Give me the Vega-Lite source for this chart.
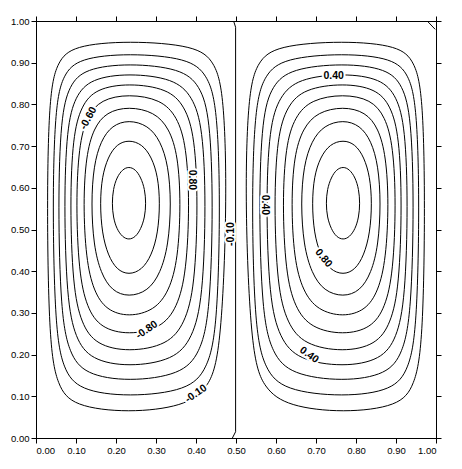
{
  "$schema": "https://vega.github.io/schema/vega-lite/v6.json",
  "width": 400,
  "height": 417,
  "autosize": {"type": "none"},
  "padding": {"left": 36, "top": 21, "right": 26, "bottom": 31},
  "background": "white",
  "config": {
    "view": {"stroke": "black", "strokeWidth": 1},
    "axis": {"grid": false, "domainColor": "black", "tickColor": "black", "labelColor": "black", "labelFont": "Liberation Sans", "labelFontSize": 9.5, "tickSize": 5, "labelPadding": 2, "title": null, "domainWidth": 1, "tickWidth": 1}
  },
  "datasets": {
    "contours": [
      {"c":"L1","i":0,"x":0.478,"y":0.563},{"c":"L1","i":1,"x":0.470,"y":0.829},{"c":"L1","i":2,"x":0.446,"y":0.903},{"c":"L1","i":3,"x":0.400,"y":0.941},{"c":"L1","i":4,"x":0.232,"y":0.953},{"c":"L1","i":5,"x":0.092,"y":0.941},{"c":"L1","i":6,"x":0.054,"y":0.903},{"c":"L1","i":7,"x":0.033,"y":0.829},{"c":"L1","i":8,"x":0.027,"y":0.563},{"c":"L1","i":9,"x":0.033,"y":0.221},{"c":"L1","i":10,"x":0.054,"y":0.125},{"c":"L1","i":11,"x":0.092,"y":0.076},{"c":"L1","i":12,"x":0.232,"y":0.060},{"c":"L1","i":13,"x":0.370,"y":0.076},{"c":"L1","i":14,"x":0.430,"y":0.118},{"c":"L1","i":15,"x":0.462,"y":0.200},
      {"c":"L2","i":0,"x":0.461,"y":0.563},{"c":"L2","i":1,"x":0.453,"y":0.798},{"c":"L2","i":2,"x":0.428,"y":0.872},{"c":"L2","i":3,"x":0.381,"y":0.911},{"c":"L2","i":4,"x":0.232,"y":0.923},{"c":"L2","i":5,"x":0.107,"y":0.911},{"c":"L2","i":6,"x":0.068,"y":0.872},{"c":"L2","i":7,"x":0.048,"y":0.798},{"c":"L2","i":8,"x":0.041,"y":0.563},{"c":"L2","i":9,"x":0.048,"y":0.260},{"c":"L2","i":10,"x":0.068,"y":0.165},{"c":"L2","i":11,"x":0.107,"y":0.114},{"c":"L2","i":12,"x":0.232,"y":0.098},{"c":"L2","i":13,"x":0.381,"y":0.114},{"c":"L2","i":14,"x":0.428,"y":0.165},{"c":"L2","i":15,"x":0.453,"y":0.260},
      {"c":"L3","i":0,"x":0.443,"y":0.563},{"c":"L3","i":1,"x":0.435,"y":0.771},{"c":"L3","i":2,"x":0.410,"y":0.846},{"c":"L3","i":3,"x":0.363,"y":0.886},{"c":"L3","i":4,"x":0.232,"y":0.899},{"c":"L3","i":5,"x":0.122,"y":0.886},{"c":"L3","i":6,"x":0.083,"y":0.846},{"c":"L3","i":7,"x":0.062,"y":0.771},{"c":"L3","i":8,"x":0.055,"y":0.563},{"c":"L3","i":9,"x":0.062,"y":0.298},{"c":"L3","i":10,"x":0.083,"y":0.203},{"c":"L3","i":11,"x":0.122,"y":0.152},{"c":"L3","i":12,"x":0.232,"y":0.135},{"c":"L3","i":13,"x":0.363,"y":0.152},{"c":"L3","i":14,"x":0.410,"y":0.203},{"c":"L3","i":15,"x":0.435,"y":0.298},
      {"c":"L4","i":0,"x":0.425,"y":0.563},{"c":"L4","i":1,"x":0.417,"y":0.746},{"c":"L4","i":2,"x":0.391,"y":0.820},{"c":"L4","i":3,"x":0.345,"y":0.862},{"c":"L4","i":4,"x":0.232,"y":0.875},{"c":"L4","i":5,"x":0.137,"y":0.862},{"c":"L4","i":6,"x":0.098,"y":0.820},{"c":"L4","i":7,"x":0.077,"y":0.746},{"c":"L4","i":8,"x":0.070,"y":0.563},{"c":"L4","i":9,"x":0.077,"y":0.333},{"c":"L4","i":10,"x":0.098,"y":0.239},{"c":"L4","i":11,"x":0.137,"y":0.187},{"c":"L4","i":12,"x":0.232,"y":0.170},{"c":"L4","i":13,"x":0.345,"y":0.187},{"c":"L4","i":14,"x":0.391,"y":0.239},{"c":"L4","i":15,"x":0.417,"y":0.333},
      {"c":"L5","i":0,"x":0.405,"y":0.563},{"c":"L5","i":1,"x":0.397,"y":0.724},{"c":"L5","i":2,"x":0.372,"y":0.797},{"c":"L5","i":3,"x":0.329,"y":0.838},{"c":"L5","i":4,"x":0.232,"y":0.851},{"c":"L5","i":5,"x":0.150,"y":0.838},{"c":"L5","i":6,"x":0.113,"y":0.797},{"c":"L5","i":7,"x":0.092,"y":0.724},{"c":"L5","i":8,"x":0.085,"y":0.563},{"c":"L5","i":9,"x":0.092,"y":0.363},{"c":"L5","i":10,"x":0.113,"y":0.274},{"c":"L5","i":11,"x":0.150,"y":0.223},{"c":"L5","i":12,"x":0.232,"y":0.206},{"c":"L5","i":13,"x":0.329,"y":0.223},{"c":"L5","i":14,"x":0.372,"y":0.274},{"c":"L5","i":15,"x":0.397,"y":0.363},
      {"c":"L6","i":0,"x":0.384,"y":0.563},{"c":"L6","i":1,"x":0.376,"y":0.701},{"c":"L6","i":2,"x":0.353,"y":0.771},{"c":"L6","i":3,"x":0.312,"y":0.812},{"c":"L6","i":4,"x":0.232,"y":0.825},{"c":"L6","i":5,"x":0.162,"y":0.812},{"c":"L6","i":6,"x":0.127,"y":0.771},{"c":"L6","i":7,"x":0.107,"y":0.701},{"c":"L6","i":8,"x":0.100,"y":0.563},{"c":"L6","i":9,"x":0.107,"y":0.397},{"c":"L6","i":10,"x":0.127,"y":0.312},{"c":"L6","i":11,"x":0.162,"y":0.263},{"c":"L6","i":12,"x":0.232,"y":0.247},{"c":"L6","i":13,"x":0.312,"y":0.263},{"c":"L6","i":14,"x":0.353,"y":0.312},{"c":"L6","i":15,"x":0.376,"y":0.397},
      {"c":"L7","i":0,"x":0.362,"y":0.563},{"c":"L7","i":1,"x":0.355,"y":0.677},{"c":"L7","i":2,"x":0.333,"y":0.743},{"c":"L7","i":3,"x":0.296,"y":0.782},{"c":"L7","i":4,"x":0.232,"y":0.795},{"c":"L7","i":5,"x":0.176,"y":0.782},{"c":"L7","i":6,"x":0.144,"y":0.743},{"c":"L7","i":7,"x":0.125,"y":0.677},{"c":"L7","i":8,"x":0.118,"y":0.563},{"c":"L7","i":9,"x":0.125,"y":0.429},{"c":"L7","i":10,"x":0.144,"y":0.352},{"c":"L7","i":11,"x":0.176,"y":0.306},{"c":"L7","i":12,"x":0.232,"y":0.290},{"c":"L7","i":13,"x":0.296,"y":0.306},{"c":"L7","i":14,"x":0.333,"y":0.352},{"c":"L7","i":15,"x":0.355,"y":0.429},
      {"c":"L8","i":0,"x":0.338,"y":0.563},{"c":"L8","i":1,"x":0.331,"y":0.653},{"c":"L8","i":2,"x":0.311,"y":0.713},{"c":"L8","i":3,"x":0.280,"y":0.750},{"c":"L8","i":4,"x":0.232,"y":0.763},{"c":"L8","i":5,"x":0.190,"y":0.750},{"c":"L8","i":6,"x":0.162,"y":0.713},{"c":"L8","i":7,"x":0.144,"y":0.653},{"c":"L8","i":8,"x":0.138,"y":0.563},{"c":"L8","i":9,"x":0.144,"y":0.462},{"c":"L8","i":10,"x":0.162,"y":0.395},{"c":"L8","i":11,"x":0.190,"y":0.352},{"c":"L8","i":12,"x":0.232,"y":0.338},{"c":"L8","i":13,"x":0.280,"y":0.352},{"c":"L8","i":14,"x":0.311,"y":0.395},{"c":"L8","i":15,"x":0.331,"y":0.462},
      {"c":"L9","i":0,"x":0.310,"y":0.563},{"c":"L9","i":1,"x":0.305,"y":0.627},{"c":"L9","i":2,"x":0.289,"y":0.674},{"c":"L9","i":3,"x":0.265,"y":0.705},{"c":"L9","i":4,"x":0.232,"y":0.715},{"c":"L9","i":5,"x":0.202,"y":0.705},{"c":"L9","i":6,"x":0.180,"y":0.674},{"c":"L9","i":7,"x":0.165,"y":0.627},{"c":"L9","i":8,"x":0.160,"y":0.563},{"c":"L9","i":9,"x":0.165,"y":0.491},{"c":"L9","i":10,"x":0.180,"y":0.438},{"c":"L9","i":11,"x":0.202,"y":0.403},{"c":"L9","i":12,"x":0.232,"y":0.391},{"c":"L9","i":13,"x":0.265,"y":0.403},{"c":"L9","i":14,"x":0.289,"y":0.438},{"c":"L9","i":15,"x":0.305,"y":0.491},
      {"c":"L10","i":0,"x":0.275,"y":0.563},{"c":"L10","i":1,"x":0.272,"y":0.597},{"c":"L10","i":2,"x":0.262,"y":0.625},{"c":"L10","i":3,"x":0.249,"y":0.644},{"c":"L10","i":4,"x":0.232,"y":0.651},{"c":"L10","i":5,"x":0.216,"y":0.644},{"c":"L10","i":6,"x":0.202,"y":0.625},{"c":"L10","i":7,"x":0.193,"y":0.597},{"c":"L10","i":8,"x":0.190,"y":0.563},{"c":"L10","i":9,"x":0.193,"y":0.529},{"c":"L10","i":10,"x":0.202,"y":0.501},{"c":"L10","i":11,"x":0.216,"y":0.482},{"c":"L10","i":12,"x":0.232,"y":0.475},{"c":"L10","i":13,"x":0.249,"y":0.482},{"c":"L10","i":14,"x":0.262,"y":0.501},{"c":"L10","i":15,"x":0.272,"y":0.529},
      {"c":"R1","i":0,"x":0.522,"y":0.563},{"c":"R1","i":1,"x":0.530,"y":0.829},{"c":"R1","i":2,"x":0.554,"y":0.903},{"c":"R1","i":3,"x":0.600,"y":0.941},{"c":"R1","i":4,"x":0.768,"y":0.953},{"c":"R1","i":5,"x":0.908,"y":0.941},{"c":"R1","i":6,"x":0.946,"y":0.903},{"c":"R1","i":7,"x":0.967,"y":0.829},{"c":"R1","i":8,"x":0.973,"y":0.563},{"c":"R1","i":9,"x":0.967,"y":0.221},{"c":"R1","i":10,"x":0.946,"y":0.125},{"c":"R1","i":11,"x":0.908,"y":0.076},{"c":"R1","i":12,"x":0.768,"y":0.060},{"c":"R1","i":13,"x":0.630,"y":0.076},{"c":"R1","i":14,"x":0.570,"y":0.118},{"c":"R1","i":15,"x":0.538,"y":0.200},
      {"c":"R2","i":0,"x":0.539,"y":0.563},{"c":"R2","i":1,"x":0.547,"y":0.798},{"c":"R2","i":2,"x":0.572,"y":0.872},{"c":"R2","i":3,"x":0.619,"y":0.911},{"c":"R2","i":4,"x":0.768,"y":0.923},{"c":"R2","i":5,"x":0.893,"y":0.911},{"c":"R2","i":6,"x":0.932,"y":0.872},{"c":"R2","i":7,"x":0.952,"y":0.798},{"c":"R2","i":8,"x":0.959,"y":0.563},{"c":"R2","i":9,"x":0.952,"y":0.260},{"c":"R2","i":10,"x":0.932,"y":0.165},{"c":"R2","i":11,"x":0.893,"y":0.114},{"c":"R2","i":12,"x":0.768,"y":0.098},{"c":"R2","i":13,"x":0.619,"y":0.114},{"c":"R2","i":14,"x":0.572,"y":0.165},{"c":"R2","i":15,"x":0.547,"y":0.260},
      {"c":"R3","i":0,"x":0.557,"y":0.563},{"c":"R3","i":1,"x":0.565,"y":0.771},{"c":"R3","i":2,"x":0.590,"y":0.846},{"c":"R3","i":3,"x":0.637,"y":0.886},{"c":"R3","i":4,"x":0.768,"y":0.899},{"c":"R3","i":5,"x":0.878,"y":0.886},{"c":"R3","i":6,"x":0.917,"y":0.846},{"c":"R3","i":7,"x":0.938,"y":0.771},{"c":"R3","i":8,"x":0.945,"y":0.563},{"c":"R3","i":9,"x":0.938,"y":0.298},{"c":"R3","i":10,"x":0.917,"y":0.203},{"c":"R3","i":11,"x":0.878,"y":0.152},{"c":"R3","i":12,"x":0.768,"y":0.135},{"c":"R3","i":13,"x":0.637,"y":0.152},{"c":"R3","i":14,"x":0.590,"y":0.203},{"c":"R3","i":15,"x":0.565,"y":0.298},
      {"c":"R4","i":0,"x":0.575,"y":0.563},{"c":"R4","i":1,"x":0.583,"y":0.746},{"c":"R4","i":2,"x":0.609,"y":0.820},{"c":"R4","i":3,"x":0.655,"y":0.862},{"c":"R4","i":4,"x":0.768,"y":0.875},{"c":"R4","i":5,"x":0.863,"y":0.862},{"c":"R4","i":6,"x":0.902,"y":0.820},{"c":"R4","i":7,"x":0.923,"y":0.746},{"c":"R4","i":8,"x":0.930,"y":0.563},{"c":"R4","i":9,"x":0.923,"y":0.333},{"c":"R4","i":10,"x":0.902,"y":0.239},{"c":"R4","i":11,"x":0.863,"y":0.187},{"c":"R4","i":12,"x":0.768,"y":0.170},{"c":"R4","i":13,"x":0.655,"y":0.187},{"c":"R4","i":14,"x":0.609,"y":0.239},{"c":"R4","i":15,"x":0.583,"y":0.333},
      {"c":"R5","i":0,"x":0.595,"y":0.563},{"c":"R5","i":1,"x":0.603,"y":0.724},{"c":"R5","i":2,"x":0.628,"y":0.797},{"c":"R5","i":3,"x":0.671,"y":0.838},{"c":"R5","i":4,"x":0.768,"y":0.851},{"c":"R5","i":5,"x":0.850,"y":0.838},{"c":"R5","i":6,"x":0.887,"y":0.797},{"c":"R5","i":7,"x":0.908,"y":0.724},{"c":"R5","i":8,"x":0.915,"y":0.563},{"c":"R5","i":9,"x":0.908,"y":0.363},{"c":"R5","i":10,"x":0.887,"y":0.274},{"c":"R5","i":11,"x":0.850,"y":0.223},{"c":"R5","i":12,"x":0.768,"y":0.206},{"c":"R5","i":13,"x":0.671,"y":0.223},{"c":"R5","i":14,"x":0.628,"y":0.274},{"c":"R5","i":15,"x":0.603,"y":0.363},
      {"c":"R6","i":0,"x":0.616,"y":0.563},{"c":"R6","i":1,"x":0.624,"y":0.701},{"c":"R6","i":2,"x":0.647,"y":0.771},{"c":"R6","i":3,"x":0.688,"y":0.812},{"c":"R6","i":4,"x":0.768,"y":0.825},{"c":"R6","i":5,"x":0.838,"y":0.812},{"c":"R6","i":6,"x":0.873,"y":0.771},{"c":"R6","i":7,"x":0.893,"y":0.701},{"c":"R6","i":8,"x":0.900,"y":0.563},{"c":"R6","i":9,"x":0.893,"y":0.397},{"c":"R6","i":10,"x":0.873,"y":0.312},{"c":"R6","i":11,"x":0.838,"y":0.263},{"c":"R6","i":12,"x":0.768,"y":0.247},{"c":"R6","i":13,"x":0.688,"y":0.263},{"c":"R6","i":14,"x":0.647,"y":0.312},{"c":"R6","i":15,"x":0.624,"y":0.397},
      {"c":"R7","i":0,"x":0.638,"y":0.563},{"c":"R7","i":1,"x":0.645,"y":0.677},{"c":"R7","i":2,"x":0.667,"y":0.743},{"c":"R7","i":3,"x":0.704,"y":0.782},{"c":"R7","i":4,"x":0.768,"y":0.795},{"c":"R7","i":5,"x":0.824,"y":0.782},{"c":"R7","i":6,"x":0.856,"y":0.743},{"c":"R7","i":7,"x":0.875,"y":0.677},{"c":"R7","i":8,"x":0.882,"y":0.563},{"c":"R7","i":9,"x":0.875,"y":0.429},{"c":"R7","i":10,"x":0.856,"y":0.352},{"c":"R7","i":11,"x":0.824,"y":0.306},{"c":"R7","i":12,"x":0.768,"y":0.290},{"c":"R7","i":13,"x":0.704,"y":0.306},{"c":"R7","i":14,"x":0.667,"y":0.352},{"c":"R7","i":15,"x":0.645,"y":0.429},
      {"c":"R8","i":0,"x":0.662,"y":0.563},{"c":"R8","i":1,"x":0.669,"y":0.653},{"c":"R8","i":2,"x":0.689,"y":0.713},{"c":"R8","i":3,"x":0.720,"y":0.750},{"c":"R8","i":4,"x":0.768,"y":0.763},{"c":"R8","i":5,"x":0.810,"y":0.750},{"c":"R8","i":6,"x":0.838,"y":0.713},{"c":"R8","i":7,"x":0.856,"y":0.653},{"c":"R8","i":8,"x":0.862,"y":0.563},{"c":"R8","i":9,"x":0.856,"y":0.462},{"c":"R8","i":10,"x":0.838,"y":0.395},{"c":"R8","i":11,"x":0.810,"y":0.352},{"c":"R8","i":12,"x":0.768,"y":0.338},{"c":"R8","i":13,"x":0.720,"y":0.352},{"c":"R8","i":14,"x":0.689,"y":0.395},{"c":"R8","i":15,"x":0.669,"y":0.462},
      {"c":"R9","i":0,"x":0.690,"y":0.563},{"c":"R9","i":1,"x":0.695,"y":0.627},{"c":"R9","i":2,"x":0.711,"y":0.674},{"c":"R9","i":3,"x":0.735,"y":0.705},{"c":"R9","i":4,"x":0.768,"y":0.715},{"c":"R9","i":5,"x":0.798,"y":0.705},{"c":"R9","i":6,"x":0.820,"y":0.674},{"c":"R9","i":7,"x":0.835,"y":0.627},{"c":"R9","i":8,"x":0.840,"y":0.563},{"c":"R9","i":9,"x":0.835,"y":0.491},{"c":"R9","i":10,"x":0.820,"y":0.438},{"c":"R9","i":11,"x":0.798,"y":0.403},{"c":"R9","i":12,"x":0.768,"y":0.391},{"c":"R9","i":13,"x":0.735,"y":0.403},{"c":"R9","i":14,"x":0.711,"y":0.438},{"c":"R9","i":15,"x":0.695,"y":0.491},
      {"c":"R10","i":0,"x":0.725,"y":0.563},{"c":"R10","i":1,"x":0.728,"y":0.597},{"c":"R10","i":2,"x":0.738,"y":0.625},{"c":"R10","i":3,"x":0.751,"y":0.644},{"c":"R10","i":4,"x":0.768,"y":0.651},{"c":"R10","i":5,"x":0.784,"y":0.644},{"c":"R10","i":6,"x":0.798,"y":0.625},{"c":"R10","i":7,"x":0.807,"y":0.597},{"c":"R10","i":8,"x":0.810,"y":0.563},{"c":"R10","i":9,"x":0.807,"y":0.529},{"c":"R10","i":10,"x":0.798,"y":0.501},{"c":"R10","i":11,"x":0.784,"y":0.482},{"c":"R10","i":12,"x":0.768,"y":0.475},{"c":"R10","i":13,"x":0.751,"y":0.482},{"c":"R10","i":14,"x":0.738,"y":0.501},{"c":"R10","i":15,"x":0.728,"y":0.529}
    ],
    "open": [
      {"c":"M","i":0,"x":0.491,"y":0.0},{"c":"M","i":1,"x":0.499,"y":0.015},{"c":"M","i":2,"x":0.499,"y":0.5},{"c":"M","i":3,"x":0.499,"y":0.985},{"c":"M","i":4,"x":0.494,"y":1.0},
      {"c":"K","i":0,"x":0.978,"y":1.0},{"c":"K","i":1,"x":0.998,"y":0.98}
    ],
    "labels": [
      {"t":"-0.60","x":0.131,"y":0.767,"a":-62},
      {"t":"0.80","x":0.389,"y":0.619,"a":90},
      {"t":"-0.10","x":0.488,"y":0.489,"a":-90},
      {"t":"-0.80","x":0.277,"y":0.259,"a":-35},
      {"t":"-0.10","x":0.400,"y":0.106,"a":-35},
      {"t":"0.40","x":0.744,"y":0.868,"a":0},
      {"t":"0.40","x":0.573,"y":0.559,"a":90},
      {"t":"0.80","x":0.719,"y":0.431,"a":50},
      {"t":"0.40","x":0.683,"y":0.199,"a":35}
    ]
  },
  "resolve": {"axis": {"x": "independent", "y": "independent"}},
  "layer": [
    {
      "data": {"name": "contours"},
      "mark": {"type": "line", "interpolate": "basis-closed", "color": "black", "strokeWidth": 1},
      "encoding": {
        "x": {"field": "x", "type": "quantitative", "scale": {"domain": [0, 1], "nice": false, "zero": false}, "axis": {"orient": "bottom", "values": [0,0.1,0.2,0.3,0.4,0.5,0.6,0.7,0.8,0.9,1], "format": ".2f"}},
        "y": {"field": "y", "type": "quantitative", "scale": {"domain": [0, 1], "nice": false, "zero": false}, "axis": {"orient": "left", "values": [0,0.1,0.2,0.3,0.4,0.5,0.6,0.7,0.8,0.9,1], "format": ".2f"}},
        "detail": {"field": "c", "type": "nominal"},
        "order": {"field": "i", "type": "quantitative"}
      }
    },
    {
      "data": {"name": "open"},
      "mark": {"type": "line", "color": "black", "strokeWidth": 1},
      "encoding": {
        "x": {"field": "x", "type": "quantitative", "axis": {"orient": "top", "labels": false, "values": [0,0.1,0.2,0.3,0.4,0.5,0.6,0.7,0.8,0.9,1]}},
        "y": {"field": "y", "type": "quantitative", "axis": {"orient": "right", "labels": false, "values": [0,0.1,0.2,0.3,0.4,0.5,0.6,0.7,0.8,0.9,1]}},
        "detail": {"field": "c", "type": "nominal"},
        "order": {"field": "i", "type": "quantitative"}
      }
    },
    {
      "data": {"name": "labels"},
      "mark": {"type": "text", "font": "Liberation Sans", "fontSize": 10.5, "fontWeight": "bold", "stroke": "white", "strokeWidth": 4, "fill": "white", "align": "center", "baseline": "middle"},
      "encoding": {
        "x": {"field": "x", "type": "quantitative", "axis": null},
        "y": {"field": "y", "type": "quantitative", "axis": null},
        "text": {"field": "t"},
        "angle": {"field": "a", "type": "quantitative", "scale": null}
      }
    },
    {
      "data": {"name": "labels"},
      "mark": {"type": "text", "font": "Liberation Sans", "fontSize": 10.5, "fontWeight": "bold", "fill": "black", "align": "center", "baseline": "middle"},
      "encoding": {
        "x": {"field": "x", "type": "quantitative", "axis": null},
        "y": {"field": "y", "type": "quantitative", "axis": null},
        "text": {"field": "t"},
        "angle": {"field": "a", "type": "quantitative", "scale": null}
      }
    }
  ]
}
